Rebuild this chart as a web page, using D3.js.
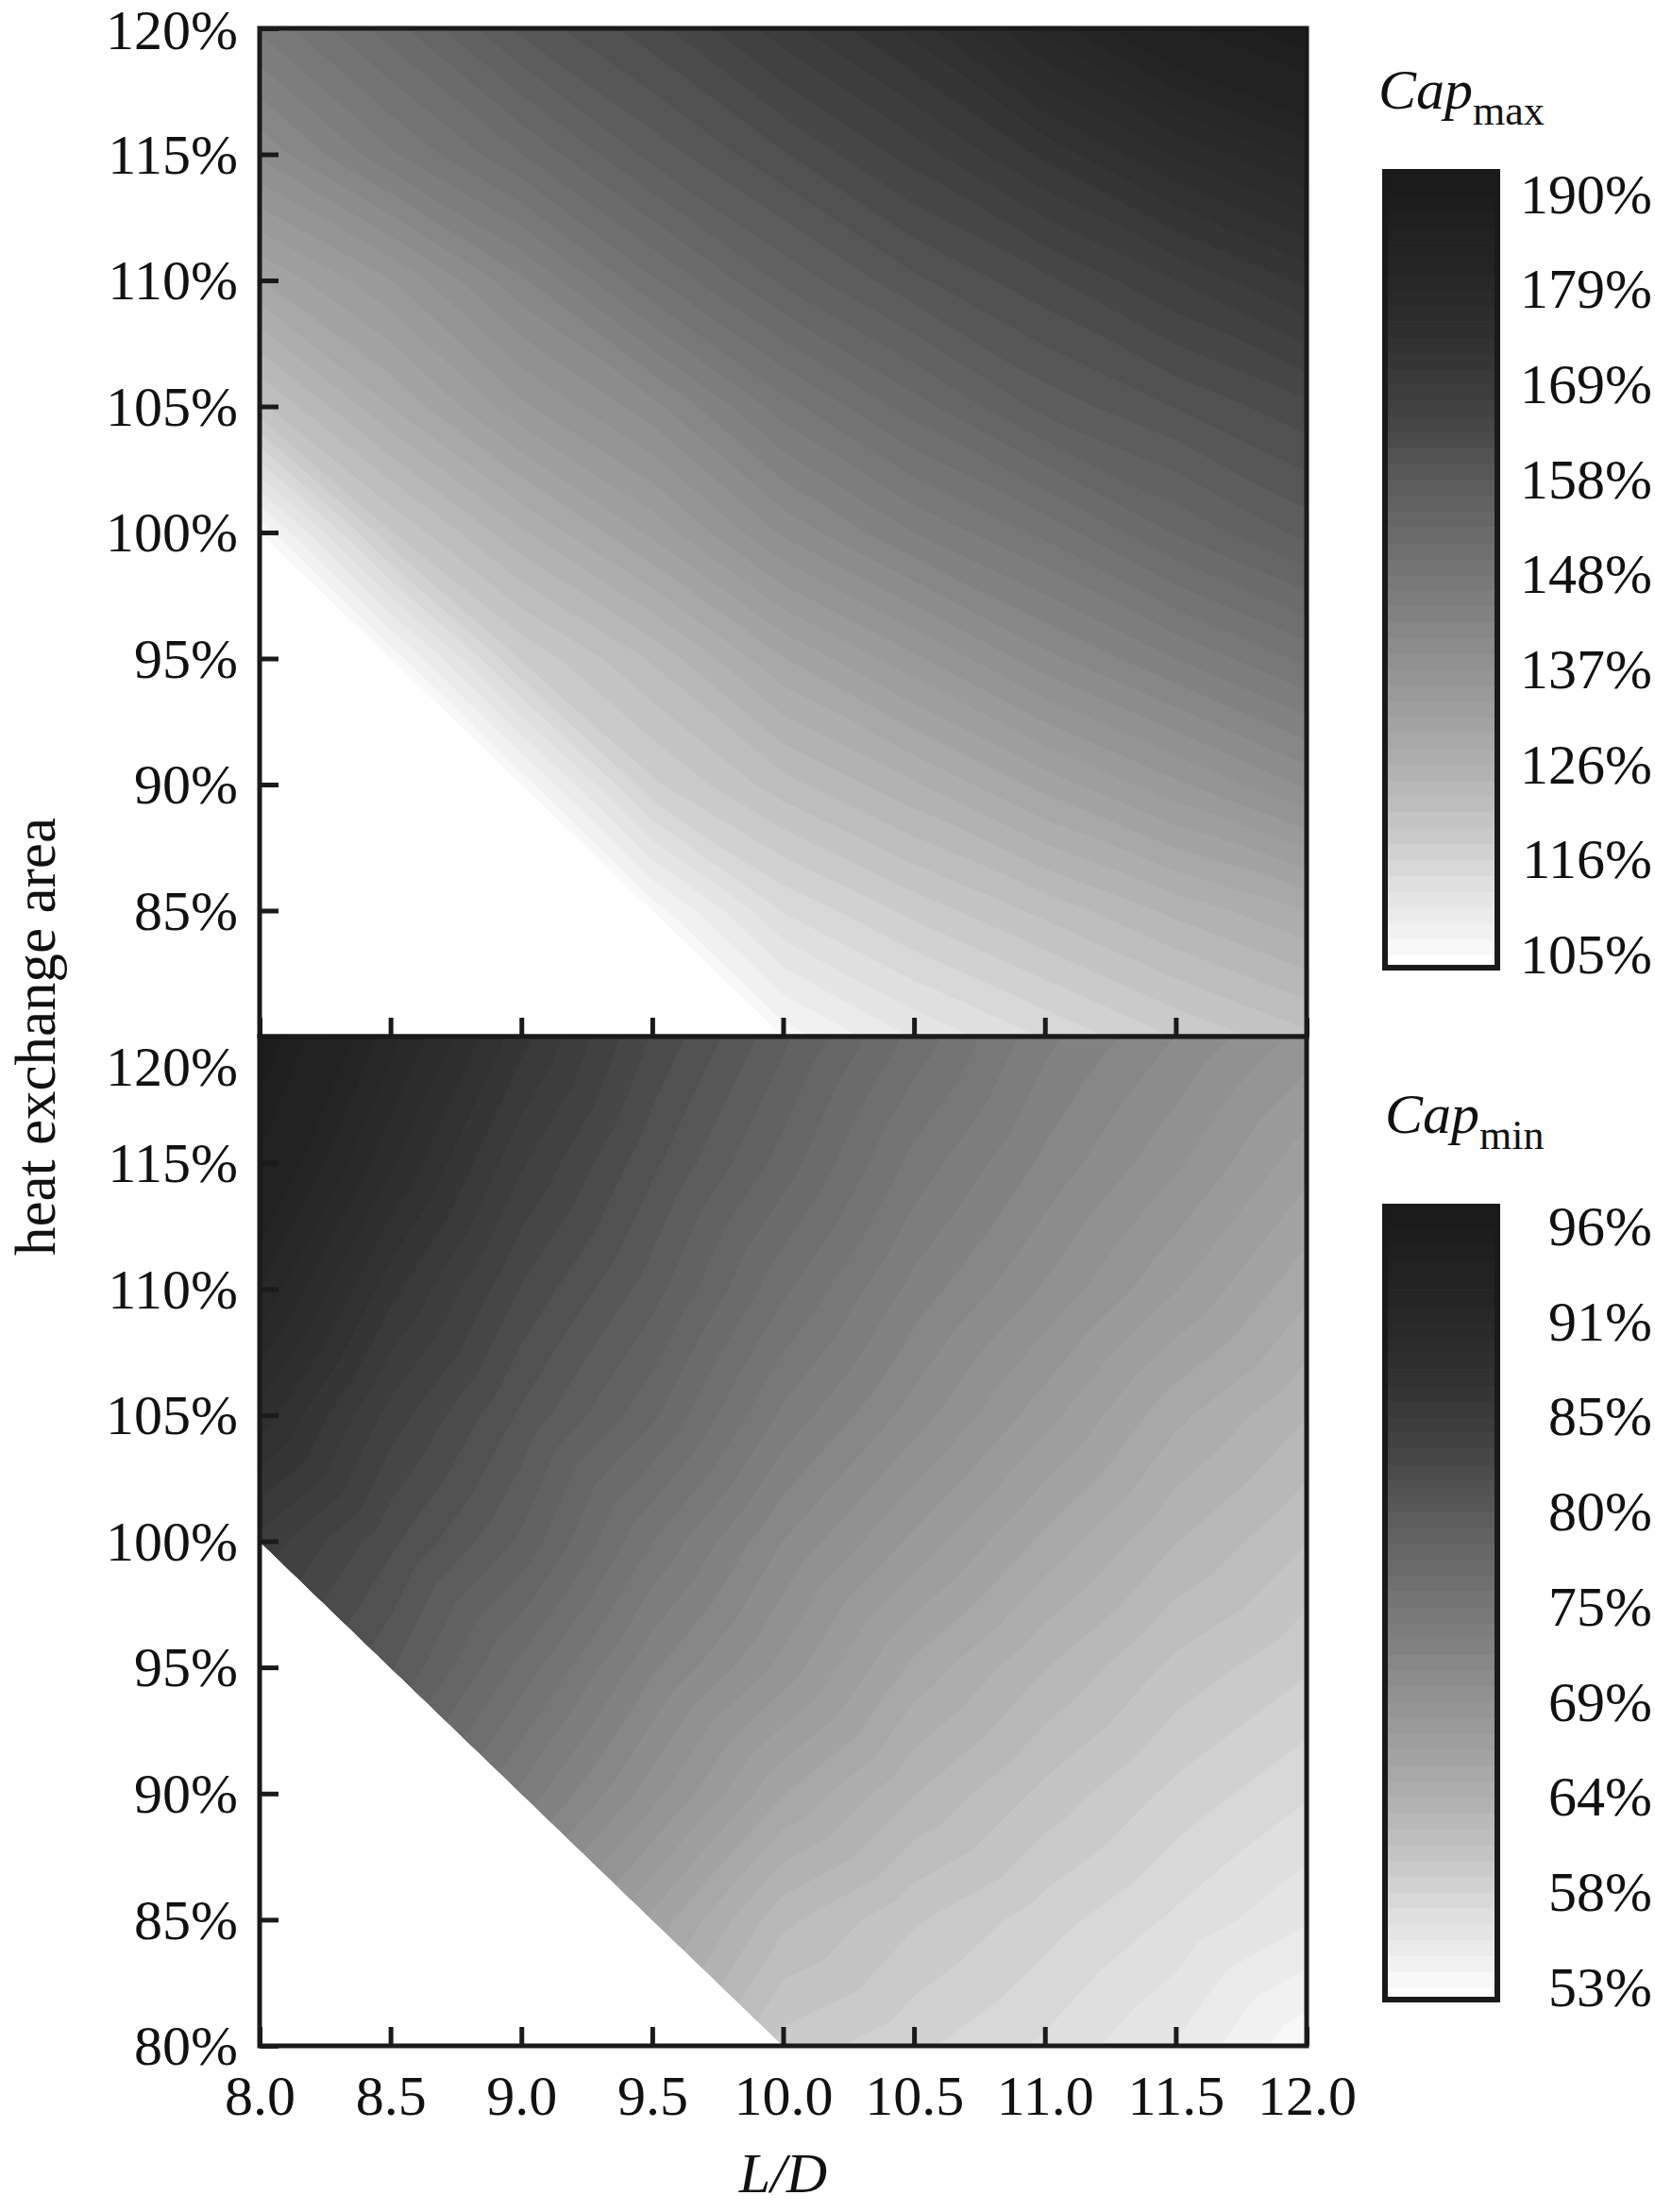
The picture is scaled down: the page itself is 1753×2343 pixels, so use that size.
<!DOCTYPE html>
<html>
<head>
<meta charset="utf-8" />
<title>Cap max / Cap min vs L/D and heat exchange area</title>
<style>
  body { margin: 0; background: #fff; }
  svg text { font-family: "Liberation Serif", "Times New Roman", serif; fill: #111; }
</style>
</head>
<body>
<div id="chart"></div>
<script src="https://cdnjs.cloudflare.com/ajax/libs/d3/7.8.5/d3.min.js"></script>
<script>
// simulation grid: L/D across, heat exchange area (%) up
var ldValues = [8.0, 8.5, 9.0, 9.5, 10.0, 10.5, 11.0, 11.5, 12.0];
var areaValues = [80, 85, 90, 95, 100, 105, 110, 115, 120];

// Cap_max (%), one row per area value (80% first), null = no design there
var capMax = [
  [null, null, null, null, 105.8, 110.5, 114.0, 117.5, 120.5],
  [null, null, null, 105.8, 114.0, 118.0, 121.5, 125.0, 128.0],
  [null, null, 105.6, 117.0, 122.0, 126.0, 130.5, 134.7, 139.0],
  [null, 105.5, 117.6, 123.0, 129.7, 134.7, 139.8, 144.0, 148.0],
  [105.3, 119.0, 126.0, 132.0, 139.0, 144.0, 148.0, 153.0, 157.0],
  [120.5, 128.0, 134.7, 139.8, 146.7, 152.0, 157.0, 160.0, 163.0],
  [129.7, 135.0, 141.8, 149.0, 155.0, 159.5, 163.0, 167.0, 171.0],
  [139.0, 145.4, 151.0, 157.0, 161.5, 166.0, 171.0, 176.0, 180.0],
  [146.0, 152.0, 158.6, 162.8, 168.0, 173.0, 180.0, 186.0, 190.0]
];

// Cap_min (%), same layout
var capMin = [
  [null, null, null, null, 59.8, 58.6, 57.3, 55.6, 53.2],
  [null, null, null, 66.2, 62.2, 60.3, 58.8, 57.3, 55.8],
  [null, null, 73.4, 69.5, 65.6, 62.9, 60.8, 59.0, 57.6],
  [null, 80.0, 76.0, 72.0, 68.8, 65.3, 62.9, 60.8, 59.4],
  [85.0, 81.9, 78.8, 74.5, 70.9, 68.0, 65.3, 62.9, 61.1],
  [88.5, 84.0, 80.6, 77.4, 73.4, 70.5, 67.7, 64.9, 62.9],
  [91.5, 86.5, 82.5, 79.4, 75.6, 72.4, 69.9, 67.4, 64.9],
  [94.0, 89.0, 84.5, 81.0, 77.7, 74.2, 71.6, 69.3, 66.8],
  [96.0, 91.0, 86.5, 82.5, 79.2, 76.0, 73.0, 70.9, 68.8]
];

var capMaxRange = [105, 190];
var capMinRange = [53, 96];
var capMaxLabels = ["105%", "116%", "126%", "137%", "148%", "158%", "169%", "179%", "190%"];
var capMinLabels = ["53%", "58%", "64%", "69%", "75%", "80%", "85%", "91%", "96%"];

var ldTicks = [8.0, 8.5, 9.0, 9.5, 10.0, 10.5, 11.0, 11.5, 12.0];
var areaTicks = [80, 85, 90, 95, 100, 105, 110, 115, 120];

!(function(){
  var width = 1753, height = 2343;
  var plotLeft = 275, plotRight = 1384;
  var nLevels = 48;
  var ink = "#1a1a1a";

  var svg = d3.select("#chart").append("svg")
    .attr("width", width)
    .attr("height", height);
  svg.append("rect").attr("width", width).attr("height", height).attr("fill", "#fff");

  var panels = [
    {grid: capMax, range: capMaxRange, labels: capMaxLabels, sub: "max",
     top: 30, bottom: 1098, barTop: 182, barBottom: 1025, labTop: 206, labBottom: 1011,
     titleX: 1460, titleY: 115, yTicks: areaTicks.slice(1), xLabels: false, topShift: 2},
    {grid: capMin, range: capMinRange, labels: capMinLabels, sub: "min",
     top: 1098, bottom: 2167, barTop: 1278, barBottom: 2118, labTop: 1299, labBottom: 2105,
     titleX: 1467, titleY: 1200, yTicks: areaTicks, xLabels: true, topShift: 32}
  ];

  var x = d3.scaleLinear().domain([ldValues[0], ldValues[ldValues.length - 1]]).range([plotLeft, plotRight]);

  // grey ramp, 0 = lowest level (white) to 1 = highest (near black)
  var ramp = d3.scaleLinear()
    .domain([0, 0.03, 0.1, 0.2, 0.3, 0.4, 0.5, 0.6, 0.7, 0.8, 0.9, 1])
    .range([255, 244, 224, 190, 164, 142, 118, 96, 68, 48, 36, 27].map(function(g){ return d3.rgb(g, g, g).toString(); }))
    .interpolate(d3.interpolateRgb);
  function bandColor(b) { return ramp(b / (nLevels + 1)); }

  // piecewise linear field on the triangulated grid (cells split top-left to bottom-right)
  function fieldValue(grid, ld, area) {
    var n = ldValues.length - 1, m = areaValues.length - 1;
    var fi = (ld - ldValues[0]) / (ldValues[1] - ldValues[0]);
    var fj = (area - areaValues[0]) / (areaValues[1] - areaValues[0]);
    var i = Math.max(0, Math.min(n - 1, Math.floor(fi)));
    var j = Math.max(0, Math.min(m - 1, Math.floor(fj)));
    var step = 0;
    while (grid[j + 1][i] == null || grid[j][i + 1] == null || grid[j + 1][i + 1] == null) {
      if ((step % 2 === 0 && i < n - 1) || j >= m - 1) i++; else j++;
      step++;
    }
    var s = fi - i, r = fj - j;
    var p00 = grid[j][i], p10 = grid[j][i + 1], p01 = grid[j + 1][i], p11 = grid[j + 1][i + 1];
    if (p00 != null && s + r <= 1) return p00 + s * (p10 - p00) + r * (p01 - p00);
    return p11 + (1 - s) * (p01 - p11) + (1 - r) * (p10 - p11);
  }

  panels.forEach(function(p, idx) {
    var y = d3.scaleLinear().domain([areaValues[0], areaValues[areaValues.length - 1]]).range([p.bottom, p.top]);
    var lo = p.range[0], hi = p.range[1];
    var thresholds = d3.range(nLevels + 1).map(function(k){ return lo + k * (hi - lo) / nLevels; });

    // feasible region from the data: lowest area with a value in each column
    var edge = ldValues.map(function(ld, i) {
      var j = 0;
      while (p.grid[j][i] == null) j++;
      return [ld, areaValues[j]];
    });
    var region = [[ldValues[0], areaValues[areaValues.length - 1]], [ldValues[ldValues.length - 1], areaValues[areaValues.length - 1]]]
      .concat(edge.slice().reverse());
    var line = d3.line().x(function(d){ return x(d[0]); }).y(function(d){ return y(d[1]); });

    svg.append("clipPath").attr("id", "clip" + idx)
      .append("path").attr("d", line(region) + "Z");

    // sample the field and build filled contour levels
    var nx = 321, ny = 321;
    var x0 = ldValues[0], x1 = ldValues[ldValues.length - 1];
    var a0 = areaValues[0], a1 = areaValues[areaValues.length - 1];
    var dLd = (x1 - x0) / (nx - 1), dA = (a1 - a0) / (ny - 1);
    var values = new Array(nx * ny);
    for (var row = 0; row < ny; row++) {
      for (var col = 0; col < nx; col++) {
        values[row * nx + col] = fieldValue(p.grid, x0 + col * dLd, a1 - row * dA);
      }
    }
    var contours = d3.contours().size([nx, ny]).thresholds(thresholds)(values);
    var proj = d3.geoTransform({
      point: function(cx, cy) {
        this.stream.point(x(x0 + (cx - 0.5) * dLd), y(a1 - (cy - 0.5) * dA));
      }
    });
    var path = d3.geoPath(proj);

    var fill = svg.append("g").attr("clip-path", "url(#clip" + idx + ")");
    fill.append("path").attr("d", line(region) + "Z").attr("fill", bandColor(0));
    fill.selectAll("path.level")
      .data(contours)
      .enter().append("path")
      .attr("class", "level")
      .attr("d", path)
      .attr("fill", function(d, k){ return bandColor(k + 1); });

    // axes, ticks pointing inward
    var gy = svg.append("g").attr("transform", "translate(" + plotLeft + ",0)")
      .call(d3.axisLeft(y).tickValues(p.yTicks).tickSize(-20).tickPadding(23)
        .tickFormat(function(d){ return d + "%"; }));
    gy.select(".domain").remove();
    gy.attr("font-size", 60).attr("font-family", null);
    gy.selectAll(".tick line").attr("stroke", ink).attr("stroke-width", 5);
    gy.selectAll(".tick text").attr("dy", "0.33em")
      .attr("y", function(d){ return d === areaValues[areaValues.length - 1] ? p.topShift : 0; });

    var gx = svg.append("g").attr("transform", "translate(0," + p.bottom + ")")
      .call(d3.axisBottom(x).tickValues(ldTicks).tickSize(-20)
        .tickFormat(p.xLabels ? d3.format(".1f") : function(){ return ""; }));
    gx.select(".domain").remove();
    gx.attr("font-size", 60).attr("font-family", null);
    gx.selectAll(".tick line").attr("stroke", ink).attr("stroke-width", 5);
    gx.selectAll(".tick text").attr("y", 73).attr("dy", 0);

    svg.append("rect")
      .attr("x", plotLeft).attr("y", p.top)
      .attr("width", plotRight - plotLeft).attr("height", p.bottom - p.top)
      .attr("fill", "none").attr("stroke", ink).attr("stroke-width", 5);

    // legend
    var barLeft = 1467, barRight = 1586;
    var ly = d3.scaleLinear().domain([lo, hi]).range([p.labBottom, p.labTop]);
    var edges = [p.barBottom].concat(thresholds.map(ly)).concat([p.barTop]);
    var lg = svg.append("g");
    lg.selectAll("rect.band")
      .data(d3.range(nLevels + 2))
      .enter().append("rect")
      .attr("class", "band")
      .attr("x", barLeft)
      .attr("width", barRight - barLeft)
      .attr("y", function(b){ return Math.max(p.barTop, edges[b + 1]); })
      .attr("height", function(b){ return Math.min(p.barBottom, edges[b]) - Math.max(p.barTop, edges[b + 1]) + 0.6; })
      .attr("fill", function(b){ return bandColor(b); });
    lg.append("rect")
      .attr("x", barLeft).attr("y", p.barTop)
      .attr("width", barRight - barLeft).attr("height", p.barBottom - p.barTop)
      .attr("fill", "none").attr("stroke", ink).attr("stroke-width", 6);

    var lp = d3.scalePoint().domain(p.labels).range([p.labBottom, p.labTop]);
    lg.selectAll("text.lab")
      .data(p.labels)
      .enter().append("text")
      .attr("class", "lab")
      .attr("x", 1750)
      .attr("y", function(d){ return lp(d); })
      .attr("dy", "0.33em")
      .attr("text-anchor", "end")
      .attr("font-size", 60)
      .text(function(d){ return d; });

    var title = lg.append("text").attr("x", p.titleX).attr("y", p.titleY).attr("font-size", 60);
    title.append("tspan").attr("font-style", "italic").text("Cap");
    title.append("tspan").attr("font-size", 44).attr("dy", 17).text(p.sub);
  });

  svg.append("text")
    .attr("transform", "translate(58,1098) rotate(-90)")
    .attr("text-anchor", "middle")
    .attr("font-size", 61)
    .text("heat exchange area");

  svg.append("text")
    .attr("x", (plotLeft + plotRight) / 2)
    .attr("y", 2322)
    .attr("text-anchor", "middle")
    .attr("font-size", 60)
    .attr("font-style", "italic")
    .text("L/D");
}());
</script>
</body>
</html>
